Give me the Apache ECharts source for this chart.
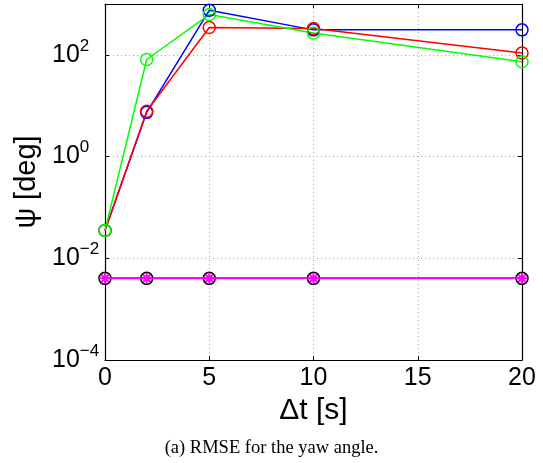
<!DOCTYPE html>
<html>
<head>
<meta charset="utf-8">
<script src="https://cdn.jsdelivr.net/npm/echarts@6/dist/echarts.min.js"></script>
<style>
html,body{margin:0;padding:0;background:#fff;}
#chart{width:543px;height:463px;}
</style>
</head>
<body>
<div id="chart"></div>
<script>
// Data
var dtValues = [0, 2, 5, 10, 20];
var blueValues = [0.0353, 7.4, 751, 310, 310];
var redValues = [0.0353, 7.8, 344, 329, 109];
var greenValues = [0.0353, 81, 620, 270, 73];
var blackValues = [0.00403, 0.00403, 0.00403, 0.00403, 0.00403];
var magentaValues = [0.00403, 0.00403, 0.00403, 0.00403, 0.00403];
var xTicks = [0, 5, 10, 15, 20];
var yTickExponents = [-4, -2, 0, 2];

function pairs(vals) {
  return dtValues.map(function (x, i) { return [x, vals[i]]; });
}

var asterisk = 'path://M10,0L10,20M0,10L20,10M3,3L17,17M3,17L17,3';

function circleSeries(name, color, vals) {
  return {
    name: name, type: 'line', data: pairs(vals),
    symbol: 'circle', symbolSize: 12,
    lineStyle: { color: color, width: 1.5 },
    itemStyle: { color: 'rgba(0,0,0,0)', borderColor: color, borderWidth: 1.5 },
    emphasis: { disabled: true }, z: 3
  };
}

var chart = echarts.init(document.getElementById('chart'), null, { renderer: 'canvas' });
var tickFont = 'Liberation Sans, Arial, Helvetica, sans-serif';

chart.setOption({
  animation: false,
  backgroundColor: '#fff',
  title: {
    text: '(a) RMSE for the yaw angle.',
    left: 'center', bottom: 0,
    textStyle: { fontFamily: 'Liberation Serif, Times New Roman, serif', fontSize: 18.5, fontWeight: 'normal', color: '#000' }
  },
  grid: { left: 105, right: 21, top: 4, bottom: 103, containLabel: false },
  xAxis: [{
    type: 'value', min: 0, max: 20, interval: 5,
    name: 'Δt [s]', nameLocation: 'middle', nameGap: 32,
    nameTextStyle: { fontFamily: tickFont, fontSize: 30, color: '#000' },
    axisLine: { show: true, onZero: false, lineStyle: { color: '#000', width: 1.2 } },
    axisTick: { show: true, inside: true, length: 4, lineStyle: { color: '#000' } },
    axisLabel: { fontFamily: tickFont, fontSize: 25, color: '#000', margin: 6,
      formatter: function (v) { return xTicks.indexOf(v) >= 0 ? String(v) : ''; } },
    splitLine: { show: true, lineStyle: { color: '#aaa', type: [1, 3], width: 1 } }
  }, {
    type: 'value', min: 0, max: 20, interval: 5, position: 'top',
    axisLine: { show: true, onZero: false, lineStyle: { color: '#000', width: 1.2 } },
    axisTick: { show: true, inside: true, length: 4, lineStyle: { color: '#000' } },
    axisLabel: { show: false }, splitLine: { show: false }
  }],
  yAxis: [{
    type: 'log', logBase: 10, min: 1e-4, max: 1e3, interval: 2,
    name: 'ψ [deg]', nameLocation: 'middle', nameGap: 60, nameRotate: 90,
    nameTextStyle: { fontFamily: tickFont, fontSize: 29, color: '#000' },
    axisLine: { show: true, onZero: false, lineStyle: { color: '#000', width: 1.2 } },
    axisTick: { show: true, inside: true, length: 4, lineStyle: { color: '#000' } },
    axisLabel: {
      align: 'left', margin: 53, padding: [0, 0, 5, 0],
      formatter: function (v) {
        var e = Math.round(Math.log10(v));
        if (yTickExponents.indexOf(e) < 0) return '';
        return '{b|10}{s|' + (e < 0 ? '\u2212' : '') + Math.abs(e) + '}';
      },
      rich: {
        b: { fontFamily: tickFont, fontSize: 25, lineHeight: 30, verticalAlign: 'bottom', color: '#000' },
        s: { fontFamily: tickFont, fontSize: 17, lineHeight: 17, verticalAlign: 'top', color: '#000' }
      }
    },
    splitLine: { show: true, lineStyle: { color: '#aaa', type: [1, 3], width: 1 } },
    minorTick: { show: false }
  }, {
    type: 'log', logBase: 10, min: 1e-4, max: 1e3, interval: 2, position: 'right',
    axisLine: { show: true, onZero: false, lineStyle: { color: '#000', width: 1.2 } },
    axisTick: { show: true, inside: true, length: 4, lineStyle: { color: '#000' } },
    axisLabel: { show: false }, splitLine: { show: false }
  }],
  series: [
    circleSeries('blue', '#0000ff', blueValues),
    circleSeries('red', '#ff0000', redValues),
    circleSeries('green', '#00ff00', greenValues),
    {
      name: 'black', type: 'line', data: pairs(blackValues),
      symbol: 'circle', symbolSize: 12,
      lineStyle: { color: '#000', width: 1.5 },
      itemStyle: { color: 'rgba(0,0,0,0)', borderColor: '#000', borderWidth: 1.5 },
      emphasis: { disabled: true }, z: 3
    },
    {
      name: 'magenta', type: 'line', data: pairs(magentaValues),
      symbol: asterisk, symbolSize: 11,
      lineStyle: { color: '#ff00ff', width: 2 },
      itemStyle: { color: '#ff00ff', borderColor: '#ff00ff', borderWidth: 2 },
      emphasis: { disabled: true }, z: 4
    }
  ]
});
</script>
</body>
</html>
